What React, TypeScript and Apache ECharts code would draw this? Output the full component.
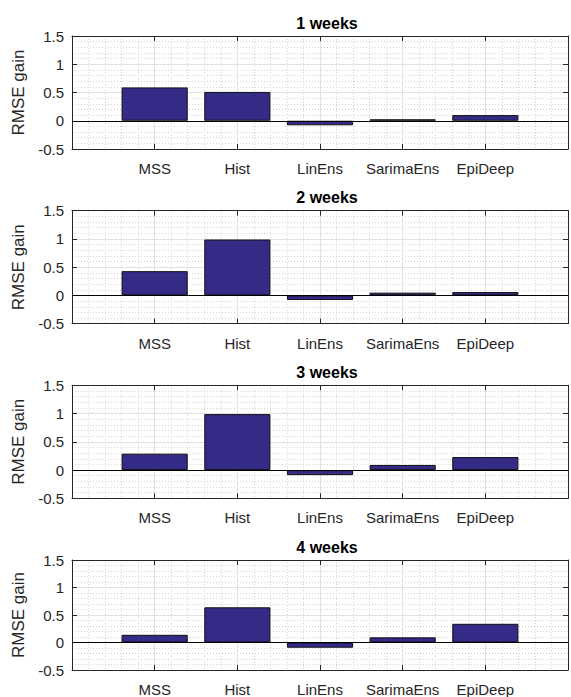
import React, { useEffect, useRef } from "react";
import * as echarts from "echarts";

const categories = ["MSS", "Hist", "LinEns", "SarimaEns", "EpiDeep"];
const panelTitles = ["1 weeks", "2 weeks", "3 weeks", "4 weeks"];
const week1 = [0.59, 0.51, -0.08, 0.025, 0.1];
const week2 = [0.43, 0.99, -0.08, 0.05, 0.06];
const week3 = [0.29, 0.99, -0.09, 0.09, 0.23];
const week4 = [0.14, 0.64, -0.095, 0.094, 0.34];
const panelValues = [week1, week2, week3, week4];
const yMin = -0.5;
const yMax = 1.5;
const yInterval = 0.5;
const yAxisName = "RMSE gain";

const FONT = "'Liberation Sans', Arial, Helvetica, sans-serif";
const AXIS_COLOR = "#262626";
const GRID_COLOR = "#e1e1e1";
const MINOR_COLOR = "#d4d4d4";
const BAR_COLOR = "#342b87";

const GRID_LEFT = 72;
const GRID_WIDTH = 500;
const GRID_TOPS = [36, 210.7, 385.3, 560];
const GRID_HEIGHT = 113;

export default function App() {
  const ref = useRef<HTMLDivElement>(null);

  useEffect(() => {
    if (!ref.current) return;
    const chart = echarts.init(ref.current, undefined, { renderer: "svg" });

    const grids: any[] = [];
    const xAxes: any[] = [];
    const yAxes: any[] = [];
    const series: any[] = [];
    const titles: any[] = [];

    panelValues.forEach((vals, i) => {
      grids.push({
        left: GRID_LEFT,
        top: GRID_TOPS[i],
        width: GRID_WIDTH,
        height: GRID_HEIGHT,
        containLabel: false,
      });
      titles.push({
        text: panelTitles[i],
        left: GRID_LEFT + GRID_WIDTH / 2,
        top: GRID_TOPS[i] - 26,
        textAlign: "center",
        textStyle: {
          fontFamily: FONT,
          fontSize: 16,
          fontWeight: "bold",
          color: "#000",
        },
      });
      xAxes.push({
        type: "value",
        gridIndex: i,
        position: "bottom",
        min: 0,
        max: categories.length + 1,
        interval: 1,
        axisLine: { show: true, onZero: false, lineStyle: { color: AXIS_COLOR, width: 1 } },
        axisTick: { show: true, inside: true, length: 5, lineStyle: { color: AXIS_COLOR } },
        axisLabel: {
          show: true,
          margin: 12,
          fontFamily: FONT,
          fontSize: 15,
          color: AXIS_COLOR,
          formatter: (v: number) => categories[Math.round(v) - 1] ?? "",
        },
        splitLine: { show: true, lineStyle: { color: GRID_COLOR, width: 1 } },
        minorTick: { show: false, splitNumber: 5 },
        minorSplitLine: { show: true, lineStyle: { color: MINOR_COLOR, width: 1, type: [1, 2] } },
      });
      xAxes.push({
        type: "value",
        gridIndex: i,
        position: "top",
        min: 0,
        max: categories.length + 1,
        interval: 1,
        axisLine: { show: true, onZero: false, lineStyle: { color: AXIS_COLOR, width: 1 } },
        axisTick: { show: true, inside: true, length: 5, lineStyle: { color: AXIS_COLOR } },
        axisLabel: { show: false },
        splitLine: { show: false },
      });
      yAxes.push({
        type: "value",
        gridIndex: i,
        position: "left",
        min: yMin,
        max: yMax,
        interval: yInterval,
        name: yAxisName,
        nameLocation: "middle",
        nameGap: 43,
        nameTextStyle: { fontFamily: FONT, fontSize: 17, color: AXIS_COLOR },
        axisLine: { show: true, onZero: false, lineStyle: { color: AXIS_COLOR, width: 1 } },
        axisTick: { show: true, inside: true, length: 5, lineStyle: { color: AXIS_COLOR } },
        axisLabel: {
          show: true,
          margin: 8,
          fontFamily: FONT,
          fontSize: 15,
          color: AXIS_COLOR,
          showMinLabel: true,
          showMaxLabel: true,
        },
        splitLine: { show: true, lineStyle: { color: GRID_COLOR, width: 1 } },
        minorTick: { show: false, splitNumber: 5 },
        minorSplitLine: { show: true, lineStyle: { color: MINOR_COLOR, width: 1, type: [1, 2] } },
      });
      yAxes.push({
        type: "value",
        gridIndex: i,
        position: "right",
        min: yMin,
        max: yMax,
        interval: yInterval,
        axisLine: { show: true, onZero: false, lineStyle: { color: AXIS_COLOR, width: 1 } },
        axisTick: { show: true, inside: true, length: 5, lineStyle: { color: AXIS_COLOR } },
        axisLabel: { show: false },
        splitLine: { show: false },
      });
      series.push({
        type: "bar",
        xAxisIndex: i * 2,
        yAxisIndex: i * 2,
        barWidth: "80%",
        data: vals.map((v, k) => [k + 1, v]),
        itemStyle: { color: BAR_COLOR, borderColor: "#111", borderWidth: 1 },
        markLine: {
          silent: true,
          symbol: "none",
          label: { show: false },
          lineStyle: { color: "#000", type: "solid", width: 1 },
          data: [{ yAxis: 0 }],
        },
        z: 3,
      });
    });

    chart.setOption({
      animation: false,
      backgroundColor: "#fff",
      title: titles,
      grid: grids,
      xAxis: xAxes,
      yAxis: yAxes,
      series,
    });

    return () => chart.dispose();
  }, []);

  return (
    <div
      ref={ref}
      style={{ position: "absolute", left: 0, top: 0, width: 571, height: 697 }}
    />
  );
}
